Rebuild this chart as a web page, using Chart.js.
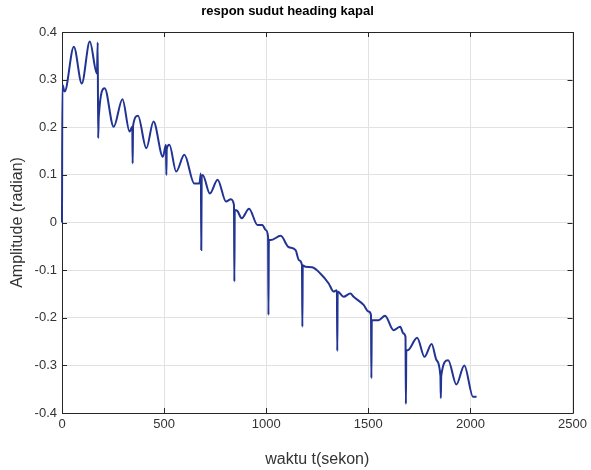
<!DOCTYPE html>
<html>
<head>
<meta charset="utf-8">
<script src="https://cdn.jsdelivr.net/npm/chart.js@4"></script>
<style>
  html, body { margin: 0; padding: 0; background: #fff; }
  canvas { display: block; }
</style>
</head>
<body>
<canvas id="headingChart" width="591" height="470"></canvas>
<script>
// === Data ===
const waktu = [
  0, 2, 13, 58, 97, 136, 171, 175, 177, 180,
  209, 253, 296, 331, 344, 346, 348, 372, 413, 448,
  494, 509, 511, 513, 526, 559, 599, 648, 673, 680,
  682, 684, 689, 724, 762, 803, 827, 842, 844, 846,
  859, 880, 916, 957, 981, 998, 1009, 1011, 1013, 1022,
  1071, 1108, 1144, 1160, 1175, 1177, 1179, 1192, 1225, 1265,
  1306, 1330, 1346, 1348, 1350, 1379, 1412, 1428, 1477, 1501,
  1513, 1515, 1517, 1525, 1550, 1582, 1623, 1656, 1672, 1682,
  1684, 1686, 1693, 1739, 1775, 1810, 1834, 1853, 1855, 1857,
  1891, 1931, 1970, 2013, 2030
];
const amplitudo = [
  0, 0.289, 0.275, 0.369, 0.292, 0.380, 0.313, 0.378, 0.177, 0.222,
  0.282, 0.201, 0.259, 0.191, 0.201, 0.124, 0.203, 0.224, 0.156, 0.212,
  0.138, 0.163, 0.100, 0.155, 0.163, 0.107, 0.142, 0.082, 0.082, 0.103,
  -0.058, 0.096, 0.100, 0.061, 0.090, 0.044, 0.049, 0.037, -0.124, 0.026,
  0.024, 0.009, 0.029, -0.005, -0.005, -0.016, -0.030, -0.194, -0.037, -0.037,
  -0.028, -0.051, -0.058, -0.079, -0.089, -0.219, -0.090, -0.093, -0.094, -0.107,
  -0.128, -0.145, -0.142, -0.270, -0.145, -0.156, -0.149, -0.156, -0.173, -0.187,
  -0.194, -0.327, -0.205, -0.205, -0.205, -0.196, -0.226, -0.219, -0.233, -0.240,
  -0.381, -0.268, -0.268, -0.242, -0.282, -0.255, -0.289, -0.322, -0.369, -0.322,
  -0.289, -0.340, -0.300, -0.366, -0.366
];
const xTicks = [0, 500, 1000, 1500, 2000, 2500];
const yTicks = [-0.4, -0.3, -0.2, -0.1, 0, 0.1, 0.2, 0.3, 0.4];

const FONT = '"Liberation Sans", Arial, Helvetica, sans-serif';
const TEXT = '#333333';

// === MATLAB style box with inward ticks on all four sides ===
const axesBox = {
  id: 'axesBox',
  afterDatasetsDraw(chart) {
    const { ctx, chartArea: a, scales } = chart;
    const len = 5;
    ctx.save();
    ctx.strokeStyle = '#262626';
    ctx.lineWidth = 1;
    ctx.beginPath();
    xTicks.forEach(v => {
      const px = Math.round(scales.x.getPixelForValue(v)) + 0.5;
      ctx.moveTo(px, a.bottom); ctx.lineTo(px, a.bottom - len);
      ctx.moveTo(px, a.top); ctx.lineTo(px, a.top + len);
    });
    yTicks.forEach(v => {
      const py = Math.round(scales.y.getPixelForValue(v)) + 0.5;
      ctx.moveTo(a.left, py); ctx.lineTo(a.left + len, py);
      ctx.moveTo(a.right, py); ctx.lineTo(a.right - len, py);
    });
    // box only on top, right and bottom so the start of the curve stays visible on the left edge
    ctx.moveTo(Math.round(a.left) + 0.5, Math.round(a.bottom) + 0.5);
    ctx.lineTo(Math.round(a.right) + 0.5, Math.round(a.bottom) + 0.5);
    ctx.lineTo(Math.round(a.right) + 0.5, Math.round(a.top) + 0.5);
    ctx.lineTo(Math.round(a.left) + 0.5, Math.round(a.top) + 0.5);
    ctx.stroke();
    ctx.restore();
  },
  beforeDatasetsDraw(chart) {
    const { ctx, chartArea: a } = chart;
    ctx.save();
    ctx.strokeStyle = '#262626';
    ctx.lineWidth = 1;
    ctx.beginPath();
    ctx.moveTo(Math.round(a.left) + 0.5, Math.round(a.top) + 0.5);
    ctx.lineTo(Math.round(a.left) + 0.5, Math.round(a.bottom) + 0.5);
    ctx.stroke();
    ctx.restore();
  }
};

const points = waktu.map((t, i) => ({ x: t, y: amplitudo[i] }));

new Chart(document.getElementById('headingChart'), {
  type: 'line',
  data: {
    datasets: [{
      data: points,
      borderColor: 'rgb(33, 52, 148)',
      borderWidth: 2,
      pointRadius: 0,
      cubicInterpolationMode: 'monotone',
      clip: 3,
      fill: false
    }]
  },
  options: {
    responsive: false,
    animation: false,
    layout: { padding: { left: 0, right: 16, top: 0, bottom: 0 } },
    plugins: {
      legend: { display: false },
      tooltip: { enabled: false },
      title: {
        display: true,
        text: 'respon sudut heading kapal',
        color: '#000',
        font: { family: FONT, size: 13, weight: 'bold' },
        padding: { top: 4, bottom: 12.4 }
      }
    },
    scales: {
      x: {
        type: 'linear',
        min: 0,
        max: 2500,
        afterBuildTicks: s => { s.ticks = xTicks.map(v => ({ value: v })); },
        afterFit: s => { s.height = 57; },
        ticks: {
          color: TEXT,
          padding: 4,
          maxRotation: 0,
          font: { family: FONT, size: 13 },
          callback: v => String(v)
        },
        grid: { color: '#e2e2e2', drawTicks: false },
        border: { display: false },
        title: {
          display: true,
          text: 'waktu t(sekon)',
          color: TEXT,
          font: { family: FONT, size: 16 },
          padding: { top: 0, bottom: 1 }
        }
      },
      y: {
        type: 'linear',
        min: -0.4,
        max: 0.4,
        afterBuildTicks: s => { s.ticks = yTicks.map(v => ({ value: v })); },
        afterFit: s => { s.width = 62; },
        ticks: {
          color: TEXT,
          padding: 5,
          font: { family: FONT, size: 13 },
          callback: v => String(+Number(v).toFixed(1))
        },
        grid: { color: '#e2e2e2', drawTicks: false },
        border: { display: false },
        title: {
          display: true,
          text: 'Amplitude (radian)',
          color: TEXT,
          font: { family: FONT, size: 16 },
          padding: { top: 8, bottom: 0 }
        }
      }
    }
  },
  plugins: [axesBox]
});
</script>
</body>
</html>
